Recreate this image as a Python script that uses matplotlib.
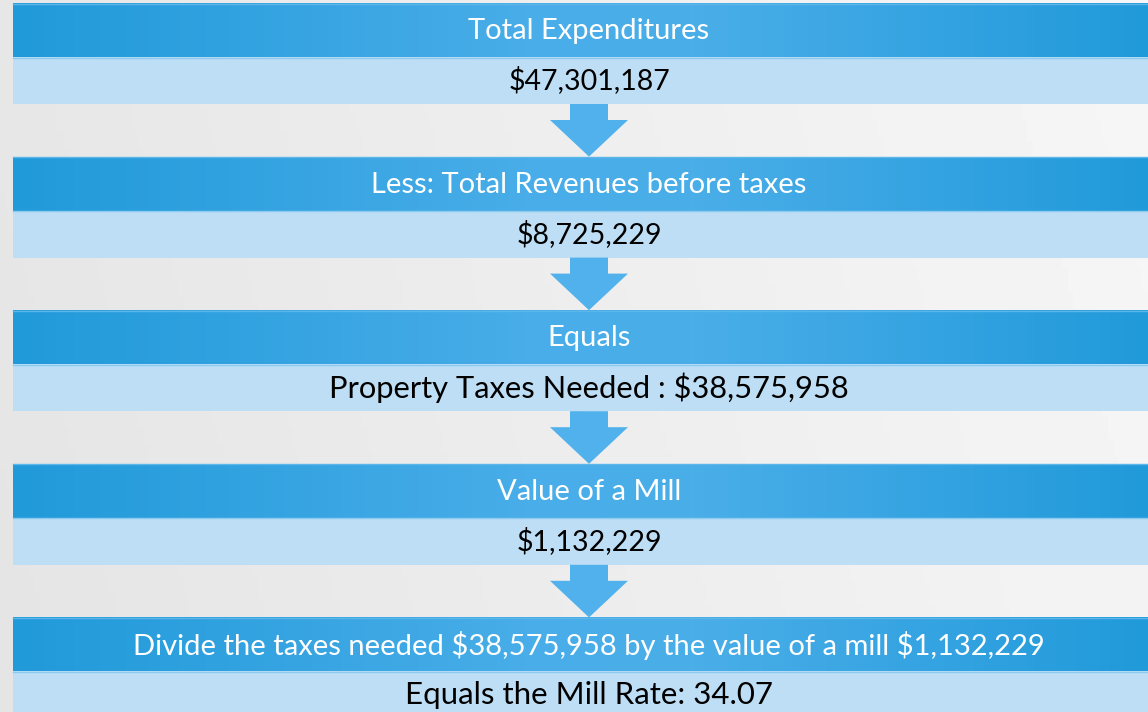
import numpy as np
import matplotlib
matplotlib.use("Agg")
from matplotlib import pyplot as plt
from matplotlib.patches import Rectangle, Polygon
from matplotlib.colors import LinearSegmentedColormap

plt.rcParams["text.parse_math"] = False

# figures shown in the flow
expenditures = 47301187
revenues = 8725229
taxes_needed = 38575958
mill_value = 1132229
mill_rate = 34.07

headers = [
    "Total Expenditures",
    "Less: Total Revenues before taxes",
    "Equals",
    "Value of a Mill",
    "Divide the taxes needed ${:,} by the value of a mill ${:,}".format(taxes_needed, mill_value),
]
values = [
    "${:,}".format(expenditures),
    "${:,}".format(revenues),
    "Property Taxes Needed : ${:,}".format(taxes_needed),
    "${:,}".format(mill_value),
    "Equals the Mill Rate: {:.2f}".format(mill_rate),
]
value_sizes = [20.5, 20.5, 22.2, 20.5, 22.5]

W, H = 1148, 712
fig = plt.figure(figsize=(W / 100, H / 100), dpi=100)
ax = fig.add_axes([0, 0, 1, 1])
ax.set_xlim(0, W)
ax.set_ylim(H, 0)
ax.axis("off")

# light grey background, slightly brighter to the right
gx = np.linspace(0, 1, 200)
gy = np.linspace(0, 1, 120)
bg = 0.905 + 0.06 * gx[None, :] - 0.01 * gy[:, None]
ax.imshow(bg, extent=[0, W, H, 0], cmap="gray", vmin=0, vmax=1, aspect="auto", zorder=0)

band_cmap = LinearSegmentedColormap.from_list(
    "band", [(0, "#219ada"), (0.45, "#48adE8"), (0.6, "#4aaee8"), (0.8, "#36a4e2"), (1, "#219ada")])
grad = np.linspace(0, 1, 300)[None, :]

left = 13
top0 = 3
step = 153.6
dark_h = 54
light_h = 47
cx = 589

for i, (head, val) in enumerate(zip(headers, values)):
    y0 = top0 + i * step
    # dark header band with horizontal gradient
    ax.imshow(grad, extent=[left, W, y0 + dark_h, y0], cmap=band_cmap,
              aspect="auto", zorder=1)
    ax.plot([left, W], [y0 + 0.5, y0 + 0.5], color="#5cb6ea", lw=1, zorder=2)
    # light value band
    ax.add_patch(Rectangle((left, y0 + dark_h), W - left, light_h,
                           facecolor="#bddef5", edgecolor="none", zorder=1))
    ax.plot([left, W], [y0 + dark_h + 0.5, y0 + dark_h + 0.5], color="#8ccaf0", lw=1, zorder=2)
    ax.text(cx, y0 + dark_h / 2 + 1, head, ha="center", va="center", color="white",
            fontsize=21, family="Lato", zorder=3)
    ax.text(cx, y0 + dark_h + light_h / 2, val, ha="center", va="center", color="black",
            fontsize=value_sizes[i], family="Lato", zorder=3)
    # arrow down to the next step
    if i < len(headers) - 1:
        yb = y0 + dark_h + light_h
        ys = yb + 16
        yt = top0 + (i + 1) * step
        ax.add_patch(Polygon([(cx - 19, yb), (cx + 19, yb), (cx + 19, ys), (cx + 39, ys),
                              (cx, yt), (cx - 39, ys), (cx - 19, ys)],
                             closed=True, facecolor="#51b1ec", edgecolor="none", zorder=2))

fig.savefig("out.png", dpi=100)
